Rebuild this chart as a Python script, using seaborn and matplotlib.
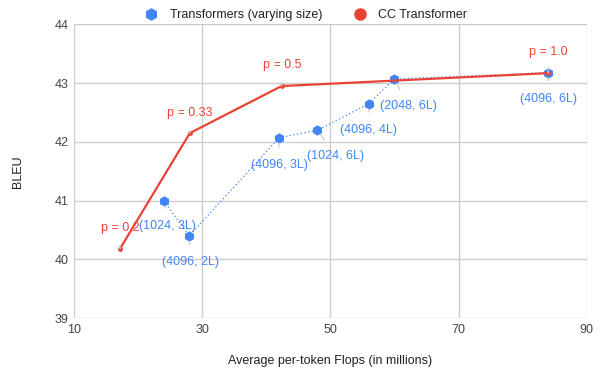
import numpy as np
import pandas as pd
import matplotlib
matplotlib.use('Agg')
import matplotlib.pyplot as plt
import seaborn as sns
from matplotlib.lines import Line2D

# Transformers of varying size (flops in millions, BLEU)
tf_flops = [24, 28, 42, 48, 56, 60, 84]
tf_bleu = [41.0, 40.4, 42.07, 42.2, 42.65, 43.07, 43.18]
tf_labels = ['(1024, 3L)', '(4096, 2L)', '(4096, 3L)', '(1024, 6L)',
             '(4096, 4L)', '(2048, 6L)', '(4096, 6L)']

# CC Transformer
cc_flops = [17.2, 28.1, 42.4, 84]
cc_bleu = [40.18, 42.15, 42.95, 43.17]
cc_labels = ['p = 0.2', 'p = 0.33', 'p = 0.5', 'p = 1.0']

blue = '#4285F4'
red = '#EA4335'

sns.set_theme(style='white')
plt.rcParams['font.family'] = ['Liberation Sans', 'DejaVu Sans']

fig = plt.figure(figsize=(6, 3.81), dpi=100)
ax = fig.add_axes([0.123, 0.165, 0.855, 0.771])

tf = pd.DataFrame({'flops': tf_flops, 'bleu': tf_bleu})
cc = pd.DataFrame({'flops': cc_flops, 'bleu': cc_bleu})

sns.lineplot(data=tf, x='flops', y='bleu', sort=False, ax=ax, color=blue,
             linestyle=(0, (1, 2)), linewidth=0.9, marker='h', markersize=7.5,
             markeredgewidth=0, zorder=3)
sns.lineplot(data=cc, x='flops', y='bleu', sort=False, ax=ax, color=red,
             linewidth=1.6, marker='o', markersize=3.5, markeredgewidth=0, zorder=4)

# label offsets in pixels (dx, dy)
tf_off = [(4, -25), (1, -26), (0, -27), (18, -26), (0, -26), (14, -27), (0, -26)]
cc_off = [(0, 21), (0, 20), (1, 21), (0, 21)]

for x, y, t, (dx, dy) in zip(tf_flops, tf_bleu, tf_labels, tf_off):
    ax.annotate(t, (x, y), xytext=(dx, dy), textcoords='offset pixels',
                ha='center', va='center', color=blue, fontsize=9,
                arrowprops=dict(arrowstyle='-', color='#d0d0d0', lw=1,
                                shrinkA=6, shrinkB=4), zorder=5)
for x, y, t, (dx, dy) in zip(cc_flops, cc_bleu, cc_labels, cc_off):
    ax.annotate(t, (x, y), xytext=(dx, dy), textcoords='offset pixels',
                ha='center', va='center', color=red, fontsize=9,
                arrowprops=dict(arrowstyle='-', color='#d0d0d0', lw=1,
                                shrinkA=6, shrinkB=3), zorder=5)

ax.set_xlim(10, 90)
ax.set_ylim(39, 44)
ax.set_xticks([10, 30, 50, 70, 90])
ax.set_yticks([39, 40, 41, 42, 43, 44])
ax.grid(True, color='#cccccc', linewidth=1)
for s in ax.spines.values():
    s.set_visible(False)
ax.tick_params(axis='both', length=0, labelsize=9, colors='#444444', pad=4)
ax.set_xlabel('Average per-token Flops (in millions)', fontsize=9,
              color='#222222', labelpad=14)
ax.set_ylabel('BLEU', fontsize=9, color='#222222', labelpad=22)

handles = [Line2D([], [], marker='h', color=blue, linestyle='none', markersize=8),
           Line2D([], [], marker='o', color=red, linestyle='none', markersize=8)]
fig.legend(handles, ['Transformers (varying size)', 'CC Transformer'],
           loc='center', bbox_to_anchor=(0.505, 0.96), ncol=2, frameon=False,
           fontsize=9, handletextpad=0.5, columnspacing=2.0, labelcolor='#222222')

fig.savefig('out.png', dpi=100)
